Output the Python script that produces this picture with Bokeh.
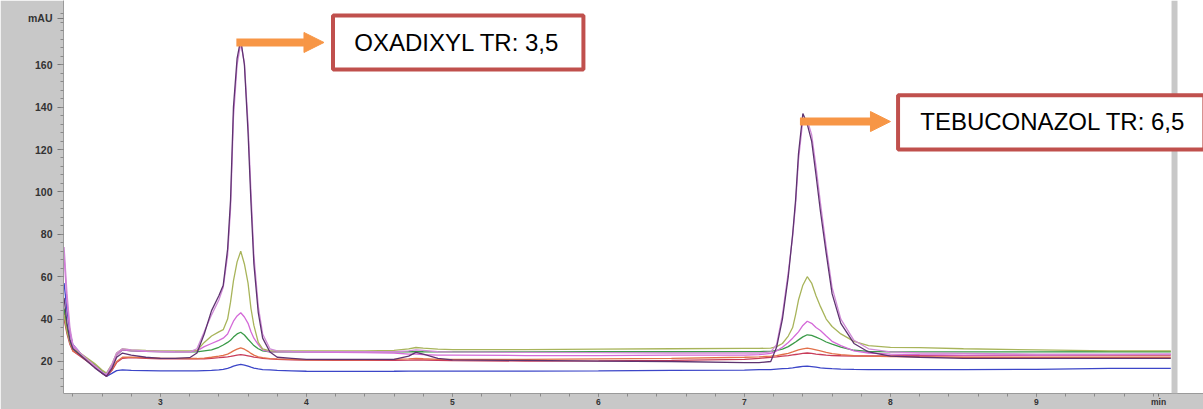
from bokeh.plotting import figure
from bokeh.models import Range1d, FixedTicker, BoxAnnotation, Label, Arrow, NormalHead
from bokeh.embed import file_html
from bokeh.resources import INLINE

# ---------------- data ----------------
time_min = [
    2.34, 2.36, 2.38, 2.40, 2.45, 2.50, 2.55, 2.60, 2.63, 2.67, 2.70, 2.74, 2.80,
    2.90, 3.00, 3.10, 3.20, 3.25, 3.30, 3.35,
    3.40, 3.43, 3.46, 3.48, 3.50, 3.525, 3.55, 3.575, 3.60, 3.62, 3.64, 3.67, 3.70, 3.75,
    3.80, 3.90, 4.00, 4.20, 4.40, 4.60, 4.70, 4.75, 4.80, 4.90, 5.00, 5.50, 6.00, 6.50, 7.00,
    7.10, 7.18, 7.22, 7.26, 7.30, 7.33, 7.35, 7.37, 7.40, 7.43, 7.46, 7.49, 7.52, 7.56, 7.60, 7.66, 7.75, 7.85,
    8.00, 8.20, 8.50, 9.00, 9.50, 9.92,
]

purple_dark = [
    50, 38, 30, 26, 23, 20, 17, 14.5, 13, 17, 22, 24, 23,
    22, 21.5, 21.5, 21.8, 24, 33, 44,
    51, 56, 73, 96, 140, 163, 172, 160, 128, 95, 66, 43, 31, 24.5,
    22, 21.5, 21, 21, 21, 21, 22.5, 24.3, 23.5, 21.5, 20.8, 20.5, 20.2, 20, 19.5,
    19.5, 20, 26.7, 40, 60, 80, 96, 118, 137, 132, 124, 108, 91, 71, 52, 38, 28.5, 24.5,
    22.5, 22, 21.5, 21.5, 21.5, 21.5,
]
violet_light = [
    74, 52, 36, 28, 24, 21, 18, 15, 14, 19, 24, 26, 25.5,
    25, 24.8, 24.6, 24.5, 26, 34, 42,
    49, 55, 70, 92, 135, 160, 170, 161, 132, 100, 70, 46, 33, 26,
    25, 24.8, 24.7, 24.7, 24.6, 24.6, 25, 25.5, 25.2, 24.6, 24.5, 24.3, 24.2, 24, 24,
    24, 24.5, 28, 42, 62, 79, 94, 115, 134, 134, 127, 112, 95, 74, 55, 40, 30, 26,
    24.5, 24, 23.8, 23.5, 23.5, 23.5,
]
olive = [
    42, 34, 29, 26, 24, 21.5, 19, 16, 14.5, 19, 24, 26, 25.5,
    25.2, 25, 25, 25, 25.2, 29, 32,
    34, 35, 40, 48, 58, 67, 72, 66, 57, 45, 37, 29, 26, 25,
    25, 25, 25, 25, 25, 25.2, 26, 26.6, 26.3, 25.8, 25.6, 25.6, 25.8, 26, 26.2,
    26.2, 26.3, 27, 28.5, 32, 36, 42, 49, 56, 60, 57, 51, 46, 40, 36.5, 33, 29.5, 27.5,
    26.7, 26.5, 26, 25.5, 25, 25,
]
magenta = [
    70, 48, 34, 27, 24, 21, 18, 15, 13.5, 18, 23, 25.5, 25,
    24.8, 24.5, 24.5, 24.5, 25, 27, 28.5,
    30, 31, 33, 36, 39, 41.5, 43, 41, 38, 34, 31, 28, 25.5, 24.5,
    24.5, 24.5, 24.4, 24.3, 24.2, 24, 23.5, 23.5, 23.2, 23, 23, 22.8, 22.8, 23, 23,
    23.2, 23.8, 25, 26.7, 29, 31, 32.5, 34, 37, 39, 38, 36, 34.6, 32, 29.5, 27.5, 25, 24,
    23.5, 23.2, 23, 23, 23.2, 23.5,
]
green = [
    45, 36, 30, 26, 23.5, 21, 18.5, 15.5, 14, 18, 23, 25.5, 25,
    24.8, 24.7, 24.6, 24.5, 24.5, 25, 25.5,
    26.7, 27.8, 29, 30, 31.5, 33, 33.8, 32.5, 30.5, 29, 27.5, 26, 25, 24.5,
    24.5, 24.5, 24.5, 24.5, 24.5, 24.5, 24.6, 24.7, 24.6, 24.5, 24.5, 24.5, 24.6, 24.6, 24.7,
    24.7, 24.8, 25.2, 25.8, 27, 28.3, 29.2, 30.2, 31.6, 32.6, 32.3, 31.5, 30.6, 29.2, 28.2, 26.8, 25.3, 24.8,
    24.6, 24.5, 24.5, 24.5, 24.6, 24.6,
]
orange = [
    44, 35, 29, 25, 23, 20.5, 18, 15, 13.5, 16.5, 20, 22, 22,
    21.8, 21.6, 21.5, 21.4, 21.4, 21.6, 22,
    22.5, 22.9, 23.5, 24.2, 25, 25.8, 26.4, 25.8, 24.8, 23.8, 23, 22.2, 21.8, 21.4,
    21.2, 21, 20.8, 20.8, 20.8, 21, 21.2, 21.5, 21.3, 21, 21, 21, 21.2, 21.5, 22,
    22.2, 22.5, 22.8, 23.3, 23.8, 24.5, 25, 25.5, 26, 26.3, 26, 25.5, 25, 24.3, 23.7, 23.2, 22.8, 22.5,
    22.3, 22.2, 22, 22, 22, 22,
]
blue = [
    57, 44, 34, 28, 24, 20.5, 17.5, 14.5, 13, 14.5, 15.7, 16, 15.8,
    15.7, 15.6, 15.6, 15.6, 15.6, 15.7, 15.8,
    16, 16.3, 16.8, 17.2, 17.8, 18.3, 18.6, 18.3, 17.8, 17.3, 16.9, 16.5, 16.2, 16,
    15.8, 15.6, 15.4, 15.3, 15.3, 15.4, 15.5, 15.5, 15.5, 15.5, 15.5, 15.5, 15.6, 15.8, 15.9,
    16.2, 16.2, 16.4, 16.6, 16.8, 17, 17.2, 17.4, 17.7, 17.8, 17.6, 17.3, 17, 16.8, 16.6, 16.4, 16.3, 16.2,
    16.2, 16.2, 16.2, 16.3, 16.8, 16.8,
]
crimson = [
    40, 33, 28, 25, 22.5, 20, 17.5, 14.5, 13, 16, 19.5, 21.5, 21.8,
    21.5, 21.3, 21.2, 21.2, 21.2, 21.3, 21.5,
    21.8, 22, 22.2, 22.4, 22.7, 23, 23.2, 23, 22.7, 22.4, 22.1, 21.8, 21.5, 21.2,
    21, 20.8, 20.6, 20.5, 20.5, 20.5, 20.6, 20.8, 20.7, 20.5, 20.4, 20.2, 20.3, 20.5, 21,
    21.5, 22, 22.2, 22.5, 22.8, 23.1, 23.3, 23.5, 23.8, 24, 23.8, 23.5, 23.3, 23, 22.8, 22.7, 22.6, 22.6,
    22.6, 22.7, 22.8, 23, 23, 23,
]

x_ticks = [3, 4, 5, 6, 7, 8, 9]
y_ticks = [20, 40, 60, 80, 100, 120, 140, 160]
x_unit_label = "min"
y_unit_label = "mAU"
label_oxadixyl = "OXADIXYL TR: 3,5"
label_tebuconazol = "TEBUCONAZOL TR: 6,5"

# ---------------- figure ----------------
GRAY = "#c8c8c8"
FONT = "Liberation Sans"

p = figure(width=1203, height=409, output_backend="svg", toolbar_location=None,
           x_range=Range1d(2.336, 10.144), y_range=Range1d(4.9, 190.3),
           min_border_left=63, min_border_right=0, min_border_top=0, min_border_bottom=14)
p.border_fill_color = GRAY
p.background_fill_color = "white"
p.outline_line_color = None
p.grid.visible = False

X_UNIT_POS = 9.836
Y_UNIT_POS = 182
xax = p.xaxis[0]
xax.ticker = FixedTicker(ticks=x_ticks + [X_UNIT_POS],
                         minor_ticks=[round(2.4 + 0.2 * i, 2) for i in range(38)])
xax.major_label_overrides = {X_UNIT_POS: x_unit_label}
yax = p.yaxis[0]
yax.ticker = FixedTicker(ticks=y_ticks + [Y_UNIT_POS],
                         minor_ticks=list(range(8, 185, 4)))
yax.major_label_overrides = {Y_UNIT_POS: y_unit_label}

for ax in (xax, yax):
    ax.axis_line_color = "#9a9a9a"
    ax.major_tick_line_color = "#777777"
    ax.minor_tick_line_color = "#8a8a8a"
    ax.major_tick_in = 0
    ax.minor_tick_in = 0
    ax.major_label_text_font = FONT
    ax.major_label_text_font_style = "bold"
    ax.major_label_text_color = "#333333"
yax.major_label_text_font_size = "10.5px"
yax.major_tick_out = 6
yax.minor_tick_out = 3
yax.major_label_standoff = 5
xax.major_label_text_font_size = "8.5px"
xax.major_tick_out = 3
xax.minor_tick_out = 3
xax.major_label_standoff = 0

# traces
series = [
    (blue, "#3c46c8"),
    (crimson, "#c83c5a"),
    (orange, "#e2704a"),
    (green, "#3a9a48"),
    (magenta, "#d46ad8"),
    (olive, "#a8b45a"),
    (violet_light, "#cf8ad6"),
    (purple_dark, "#5e3370"),
]
for vals, col in series:
    p.line(time_min, vals, line_color=col, line_width=1.3)

# right grey strip of the original instrument frame
p.add_layout(BoxAnnotation(left=9.925, right=9.966, fill_color=GRAY, fill_alpha=1,
                           line_color=None))

# annotation arrows
ORANGE = "#f79646"
p.add_layout(Arrow(x_start=3.52, y_start=170.5, x_end=4.12, y_end=170.5,
                   line_color=ORANGE, line_width=8,
                   end=NormalHead(size=20, fill_color=ORANGE, line_color=ORANGE)))
p.add_layout(Arrow(x_start=7.38, y_start=133.2, x_end=8.0, y_end=133.2,
                   line_color=ORANGE, line_width=8,
                   end=NormalHead(size=20, fill_color=ORANGE, line_color=ORANGE)))

# annotation boxes
BOX_RED = "#c0504d"
p.add_layout(BoxAnnotation(left=4.182, right=5.897, bottom=157.7, top=183.2,
                           fill_color="white", fill_alpha=1,
                           line_color=BOX_RED, line_alpha=1, line_width=4))
p.add_layout(BoxAnnotation(left=8.052, right=10.15, bottom=120.0, top=145.6,
                           fill_color="white", fill_alpha=1,
                           line_color=BOX_RED, line_alpha=1, line_width=4))
p.add_layout(Label(x=5.031, y=170.5, text=label_oxadixyl, text_align="center",
                   text_baseline="middle", text_font=FONT, text_font_size="24px",
                   text_color="black"))
p.add_layout(Label(x=9.113, y=133.2, text=label_tebuconazol, text_align="center",
                   text_baseline="middle", text_font=FONT, text_font_size="24px",
                   text_color="black"))

open("out.html", "w").write(file_html(p, INLINE))
